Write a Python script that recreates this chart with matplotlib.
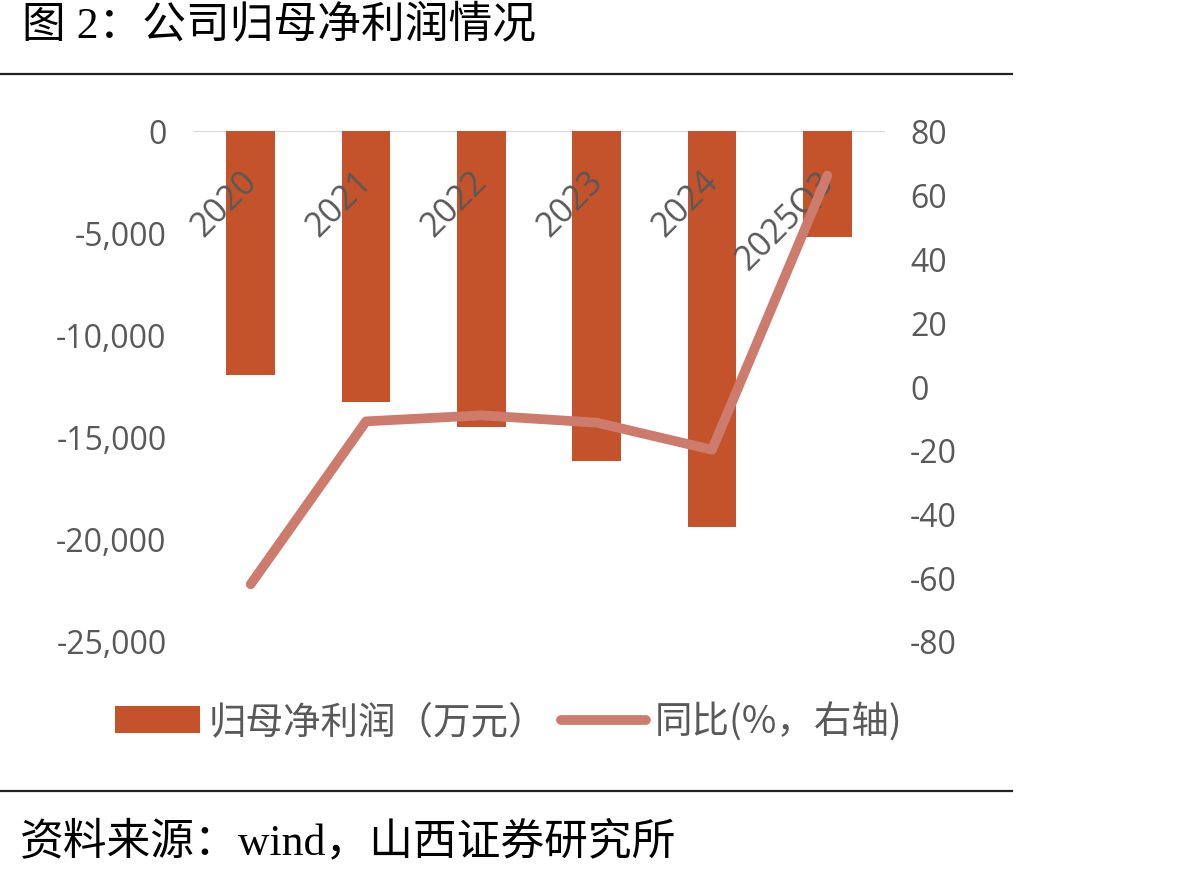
import matplotlib
matplotlib.use("Agg")
import matplotlib.pyplot as plt
from matplotlib.patches import Patch
from matplotlib.lines import Line2D
from matplotlib.transforms import ScaledTranslation
import numpy as np

categories = ["2020", "2021", "2022", "2023", "2024", "2025Q3"]
net_profit = [-11960, -13280, -14510, -16180, -19410, -5200]   # 万元
yoy = [-62.2, -11.1, -9.2, -11.5, -20.0, 66.0]                  # %
left_ticks = [0, -5000, -10000, -15000, -20000, -25000]
right_ticks = [80, 60, 40, 20, 0, -20, -40, -60, -80]

title = "图 2：公司归母净利润情况"
source = "资料来源：wind，山西证券研究所"
bar_label = "归母净利润（万元）"
line_label = "同比(%，右轴)"

BAR_C = "#C4532B"
LINE_C = "#CD7B6C"
TXT_C = "#595959"

W, H = 1193, 878
fig = plt.figure(figsize=(W / 100, H / 100), dpi=100)

ax = fig.add_axes([193 / W, 1 - 642 / H, (885 - 193) / W, (642 - 132) / H])
x = np.arange(len(categories))
ax.axhline(0, color="#D9D9D9", lw=1.6, zorder=1)
ax.bar(x, net_profit, width=0.42, color=BAR_C, zorder=2)
ax.set_xlim(-0.5, len(categories) - 0.5)
ax.set_ylim(-25000, 0)
ax.set_yticks(left_ticks)
ax.set_yticklabels([f"{v:,}" for v in left_ticks])
ax.tick_params(axis="y", length=0, pad=19, labelsize=23, labelcolor=TXT_C)
ax.set_xticks([])
for lab in ax.get_yticklabels():
    lab.set_family("Open Sans")
for s in ax.spines.values():
    s.set_visible(False)

# category labels just below the zero line
off = ScaledTranslation(-11 / 100, -33 / 100, fig.dpi_scale_trans)
for i, c in enumerate(categories):
    ax.text(i, 1.0, c, transform=ax.get_xaxis_transform() + off,
            rotation=45, rotation_mode="anchor", ha="right", va="top",
            fontsize=24.5, color=TXT_C, family="Open Sans", zorder=5)

ax2 = ax.twinx()
ax2.plot(x, yoy, color=LINE_C, lw=7, solid_capstyle="round",
         solid_joinstyle="round", zorder=3)
ax2.set_ylim(-80, 80)
ax2.set_yticks(right_ticks)
ax2.set_yticklabels([str(v) for v in right_ticks])
ax2.tick_params(axis="y", length=0, pad=18, labelsize=23, labelcolor=TXT_C)
for lab in ax2.get_yticklabels():
    lab.set_family("Open Sans")
for s in ax2.spines.values():
    s.set_visible(False)

handles = [Patch(facecolor=BAR_C, edgecolor="none"),
           Line2D([0], [0], color=LINE_C, lw=7, solid_capstyle="round")]
fig.legend(handles, [bar_label, line_label], loc="center left",
           bbox_to_anchor=(115 / W, 1 - 723 / H), ncol=2, frameon=False,
           borderpad=0, borderaxespad=0, handlelength=2.27, handleheight=0.7,
           handletextpad=0.22, columnspacing=0.4,
           prop={"family": ["Noto Sans CJK SC", "DejaVu Sans"], "size": 27},
           labelcolor=TXT_C)

fam = ["Liberation Serif", "Noto Sans CJK SC", "DejaVu Sans"]
fig.text(22 / W, 1 - 27 / H, title, ha="left", va="center",
         fontsize=31.5, family=fam, color="black")
fig.text(20 / W, 1 - 842 / H, source, ha="left", va="center",
         fontsize=31.5, family=fam, color="black")

fig.add_artist(Line2D([0, 1012 / W], [1 - 75 / H] * 2, color="#222222", lw=1.6))
fig.add_artist(Line2D([0, 1012 / W], [1 - 792 / H] * 2, color="#222222", lw=1.6))

fig.savefig("out.png", dpi=100)
